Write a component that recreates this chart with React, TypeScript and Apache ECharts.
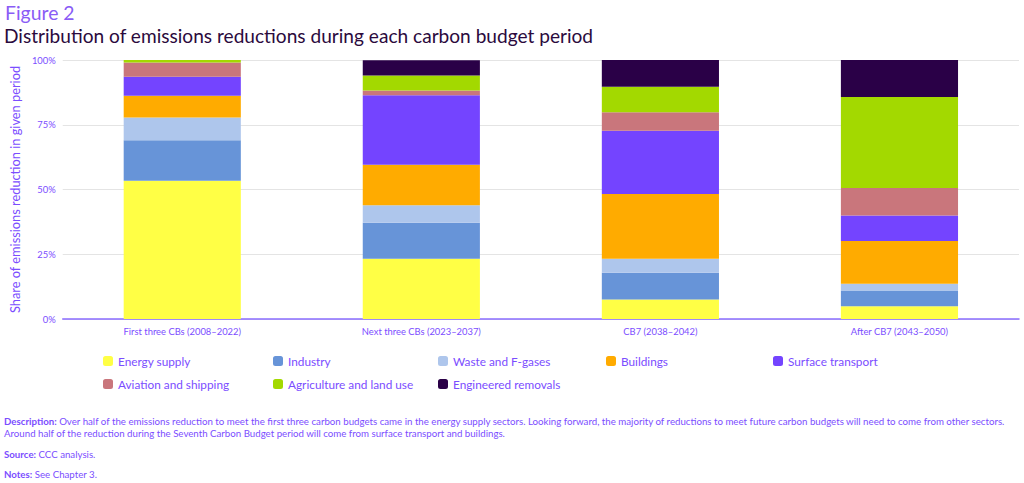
import React, { useEffect, useRef } from "react";
import * as echarts from "echarts";

const categories = [
  "First three CBs (2008–2022)",
  "Next three CBs (2023–2037)",
  "CB7 (2038–2042)",
  "After CB7 (2043–2050)",
];

const seriesNames = [
  "Energy supply",
  "Industry",
  "Waste and F-gases",
  "Buildings",
  "Surface transport",
  "Aviation and shipping",
  "Agriculture and land use",
  "Engineered removals",
];

const energySupply = [53.4, 23.3, 7.5, 4.9];
const industry = [15.6, 13.9, 10.4, 6.1];
const wasteFgases = [8.8, 6.7, 5.4, 2.6];
const buildings = [8.4, 15.7, 25.0, 16.5];
const surfaceTransport = [7.3, 26.8, 24.4, 9.9];
const aviationShipping = [5.5, 1.8, 7.1, 10.6];
const agriculture = [1.0, 5.8, 9.9, 35.1];
const engineeredRemovals = [0, 5.9, 10.3, 14.3];

const yTicks = [0, 25, 50, 75, 100];

const legendColumns = [
  ["Energy supply", "Aviation and shipping"],
  ["Industry", "Agriculture and land use"],
  ["Waste and F-gases", "Engineered removals"],
  ["Buildings"],
  ["Surface transport"],
];

const colors = [
  "#ffff45",
  "#6794d8",
  "#aec6ec",
  "#ffab00",
  "#7444ff",
  "#c9767c",
  "#a3d900",
  "#2a0047",
];

const FONT = "Lato, 'Open Sans', sans-serif";
const PURPLE = "#7b4dff";
const legendX = [103, 273, 438, 606, 773];

export default function App() {
  const ref = useRef<HTMLDivElement>(null);

  useEffect(() => {
    document.body.style.margin = "0";
    if (!ref.current) return;
    const chart = echarts.init(ref.current, undefined, { renderer: "svg" });
    const values = [
      energySupply,
      industry,
      wasteFgases,
      buildings,
      surfaceTransport,
      aviationShipping,
      agriculture,
      engineeredRemovals,
    ];
    const descStyle = { fontFamily: FONT, fontSize: 9.7, fill: PURPLE };
    const boldRich = { b: { fontFamily: FONT, fontSize: 9.7, fontWeight: "bold", fill: PURPLE } };
    chart.setOption({
      animation: false,
      textStyle: { fontFamily: FONT },
      color: colors,
      title: [
        {
          text: "Figure 2",
          left: 5,
          top: 3,
          padding: 0,
          textStyle: { fontFamily: FONT, fontSize: 19.4, fontWeight: "normal", color: "#8a5cf6" },
        },
        {
          text: "Distribution of emissions reductions during each carbon budget period",
          left: 4,
          top: 26,
          padding: 0,
          textStyle: { fontFamily: FONT, fontSize: 19.1, fontWeight: "normal", color: "#2b0a3d" },
        },
      ],
      legend: legendColumns.map((col, i) => ({
        left: legendX[i],
        top: 355,
        orient: "vertical",
        padding: 0,
        itemWidth: 10,
        itemHeight: 10,
        itemGap: 11,
        icon: "roundRect",
        data: col,
        textStyle: { fontFamily: FONT, fontSize: 11.8, color: PURPLE },
      })),
      grid: { left: 57, right: 5, top: 60, bottom: 164, containLabel: false },
      xAxis: {
        type: "category",
        data: categories,
        axisTick: { show: false },
        axisLine: { lineStyle: { color: "#8a6cff", width: 1.5 } },
        axisLabel: { color: PURPLE, fontSize: 9.4, margin: 8, fontFamily: FONT },
      },
      yAxis: {
        type: "value",
        min: yTicks[0],
        max: yTicks[yTicks.length - 1],
        interval: 25,
        name: "Share of emissions reduction in given period",
        nameLocation: "middle",
        nameGap: 37,
        nameTextStyle: { color: PURPLE, fontSize: 12.8, fontFamily: FONT },
        axisLabel: { color: PURPLE, fontSize: 9.4, formatter: "{value}%", margin: 7 },
        splitLine: { lineStyle: { color: "#e4e4e4", width: 1 } },
        axisLine: { show: false },
        axisTick: { show: false },
      },
      series: seriesNames.map((name, i) => ({
        name,
        type: "bar",
        stack: "total",
        barWidth: "49%",
        data: values[i],
        itemStyle: { color: colors[i] },
      })),
      graphic: [
        {
          type: "text",
          left: 4,
          top: 415,
          style: {
            ...descStyle,
            text: "{b|Description:} Over half of the emissions reduction to meet the first three carbon budgets came in the energy supply sectors. Looking forward, the majority of reductions to meet future carbon budgets will need to come from other sectors.\nAround half of the reduction during the Seventh Carbon Budget period will come from surface transport and buildings.",
            lineHeight: 12,
            rich: boldRich,
          },
        },
        {
          type: "text",
          left: 4,
          top: 449,
          style: { ...descStyle, text: "{b|Source:} CCC analysis.", rich: boldRich },
        },
        {
          type: "text",
          left: 4,
          top: 469,
          style: { ...descStyle, text: "{b|Notes:} See Chapter 3.", rich: boldRich },
        },
      ],
    });
    return () => chart.dispose();
  }, []);

  return (
    <div
      ref={ref}
      style={{ position: "fixed", left: 0, top: 0, width: 1024, height: 483, background: "#fff" }}
    />
  );
}
